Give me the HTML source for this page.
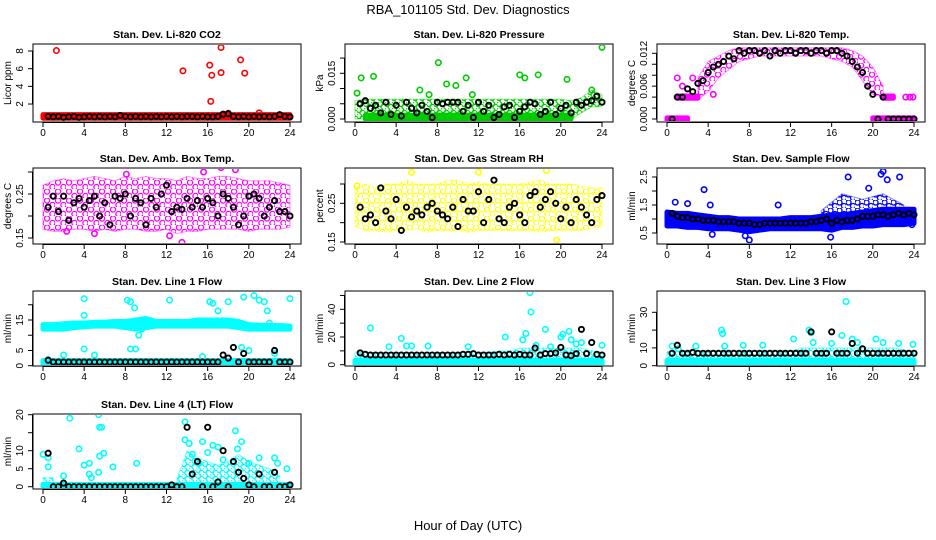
<!DOCTYPE html>
<html><head><meta charset="utf-8"><style>
body{margin:0;background:#fff}
svg{display:block;font-family:"Liberation Sans",sans-serif}
</style></head><body>
<svg id="chart" width="936" height="540" viewBox="0 0 936 540" xmlns="http://www.w3.org/2000/svg">
<defs>
<pattern id="pt-red" width="7" height="6" patternUnits="userSpaceOnUse"><circle cx="2" cy="2" r="2.5" fill="none" stroke="#ff0000" stroke-width="1.3"/><circle cx="5.5" cy="4.8" r="2.5" fill="none" stroke="#ff0000" stroke-width="1.3"/></pattern>
<pattern id="pt-green" width="7" height="6" patternUnits="userSpaceOnUse"><circle cx="2" cy="2" r="2.5" fill="none" stroke="#00cd00" stroke-width="1.3"/><circle cx="5.5" cy="4.8" r="2.5" fill="none" stroke="#00cd00" stroke-width="1.3"/></pattern>
<pattern id="pt-magenta" width="11" height="9" patternUnits="userSpaceOnUse"><circle cx="3" cy="2.5" r="2.6" fill="none" stroke="#ff00ff" stroke-width="1.3"/><circle cx="8.5" cy="7" r="2.6" fill="none" stroke="#ff00ff" stroke-width="1.3"/></pattern>
<pattern id="pt-yellow" width="11" height="9" patternUnits="userSpaceOnUse"><circle cx="3" cy="2.5" r="2.6" fill="none" stroke="#ffff00" stroke-width="1.3"/><circle cx="8.5" cy="7" r="2.6" fill="none" stroke="#ffff00" stroke-width="1.3"/></pattern>
<pattern id="pt-blue" width="9" height="8" patternUnits="userSpaceOnUse"><circle cx="2.5" cy="2.5" r="2.5" fill="none" stroke="#0000ff" stroke-width="1.3"/><circle cx="7" cy="6" r="2.5" fill="none" stroke="#0000ff" stroke-width="1.3"/></pattern>
<pattern id="pt-cyan" width="7" height="6" patternUnits="userSpaceOnUse"><circle cx="2" cy="2" r="2.5" fill="none" stroke="#00ffff" stroke-width="1.3"/><circle cx="5.5" cy="4.8" r="2.5" fill="none" stroke="#00ffff" stroke-width="1.3"/></pattern>
</defs>
<text x="468" y="14" text-anchor="middle" font-size="13">RBA_101105  Std. Dev. Diagnostics</text>
<text x="468" y="530" text-anchor="middle" font-size="13">Hour of Day (UTC)</text>
</svg>
<script>
const bandHours=[0,1,2,3,4,5,6,7,8,9,10,11,12,13,14,15,16,17,18,19,20,21,22,23,24];
const blackX=[0.5,1,1.5,2,2.5,3,3.5,4,4.5,5,5.5,6,6.5,7,7.5,8,8.5,9,9.5,10,10.5,11,11.5,12,12.5,13,13.5,14,14.5,15,15.5,16,16.5,17,17.5,18,18.5,19,19.5,20,20.5,21,21.5,22,22.5,23,23.5,24];
const xTicks=[0,4,8,12,16,20,24];
const N=null;
// CO2
const co2Lo=[0.4,0.4,0.4,0.4,0.4,0.4,0.4,0.4,0.4,0.4,0.4,0.4,0.4,0.4,0.4,0.4,0.4,0.4,0.4,0.4,0.4,0.4,0.4,0.4,0.4];
const co2Hi=[0.8,0.8,0.8,0.8,0.8,0.8,0.8,0.8,0.8,0.8,0.8,0.8,0.8,0.8,0.8,0.8,0.8,0.8,0.8,0.8,0.8,0.8,0.8,0.8,0.8];
const co2OutX=[1.3,13.6,16.2,16.4,16.3,17.3,17.3,19.2,19.6,18,21];
const co2OutY=[8.05,5.75,6.4,5.25,2.3,8.4,5.55,7.0,5.5,0.95,1.0];
const co2Black=[0.6,0.55,0.6,0.5,0.55,0.6,0.5,0.55,0.6,0.55,0.6,0.55,0.6,0.55,0.7,0.6,0.55,0.6,0.55,0.6,0.55,0.6,0.55,0.6,0.55,0.6,0.55,0.6,0.6,0.55,0.6,0.55,0.55,0.6,0.85,0.9,0.6,0.55,0.6,0.55,0.6,0.55,0.6,0.55,0.6,0.8,0.6,0.55];
// Pressure
const prLo=[0,0,0,0,0,0,0,0,0,0,0,0,0,0,0,0,0,0,0,0,0,0,0.002,0.004,0.004];
const prHi=[0.006,0.0065,0.0065,0.0065,0.0065,0.0065,0.0065,0.0065,0.0065,0.0065,0.0065,0.0065,0.0065,0.0065,0.0065,0.0065,0.0065,0.0065,0.0065,0.0065,0.0065,0.006,0.007,0.0095,0.008];
const prSolidLo=[N,0,0,0,0,0,0,0,0,0,0,0,0,0,0,0,0,0,0,0,0,0,N,N,N];
const prSolidHi=[N,0.0012,0.0012,0.0012,0.0012,0.0012,0.0012,0.0012,0.0012,0.0012,0.0012,0.0012,0.0012,0.0012,0.0012,0.0012,0.0012,0.0012,0.0012,0.0012,0.0012,0.0012,N,N,N];
const prOutX=[0.6,1.8,6.3,8.1,8.9,9.8,10.8,11.4,16,16.5,17.8,20.6,24,23,0.2,7.2];
const prOutY=[0.0135,0.014,0.0095,0.0185,0.0115,0.011,0.0135,0.008,0.0145,0.0135,0.0145,0.013,0.0235,0.0095,0.0085,0.008];
const prBlack=[0.005,0.006,0.0035,0.0045,0.002,0.0055,0.0015,0.0045,0.001,0.0055,0.0035,0.002,0.0045,0.0025,0.0005,0.0055,0.005,0.0055,0.0055,0.0055,0.0025,0.0045,0.0005,0.0055,0.0025,0.0045,0.0005,0.0015,0.004,0.0045,0.0005,0.0025,0.004,0.0055,0.005,0.0015,0.0025,0.0055,0.0015,0.0035,0.0045,0.002,0.0055,0.0045,0.0055,0.006,0.0075,0.0055];
// Li-820 Temp
const tpLo=[N,N,N,0.0035,0.005,0.0075,0.009,0.0105,0.011,0.0115,0.0115,0.0115,0.0115,0.0115,0.0115,0.0115,0.011,0.0105,0.0095,0.007,0.0045,0.004,N,N,N];
const tpHi=[N,N,N,0.0075,0.0105,0.0115,0.0125,0.013,0.013,0.013,0.013,0.013,0.013,0.013,0.013,0.013,0.013,0.013,0.0125,0.0115,0.0095,0.006,N,N,N];
const tpZeroLo=[-0.0002,-0.0002,-0.0002,N,N,N,N,N,N,N,N,N,N,N,N,N,N,N,N,N,-0.0002,-0.0002,-0.0002,-0.0002,-0.0002];
const tpZeroHi=[0.0002,0.0002,0.0002,N,N,N,N,N,N,N,N,N,N,N,N,N,N,N,N,N,0.0002,0.0002,0.0002,0.0002,0.0002];
const tpMidLo=[N,0.0038,0.0038,0.0038,N,N,N,N,N,N,N,N,N,N,N,N,N,N,N,N,N,0.0038,0.0038,N,N];
const tpMidHi=[N,0.0042,0.0042,0.0042,N,N,N,N,N,N,N,N,N,N,N,N,N,N,N,N,N,0.0042,0.0042,N,N];
const tpOutX=[23.2,23.6,23.9,1,1.5,2,4.5,2.5];
const tpOutY=[0.004,0.004,0.004,0.0075,0.006,0.0055,0.0045,0.0075];
const tpBlack=[0,0.004,0.004,0.0055,0.005,0.0065,0.007,0.0085,0.0095,0.01,0.0105,0.0115,0.011,0.0125,0.012,0.0125,0.0125,0.012,0.0125,0.0115,0.0125,0.012,0.0125,0.0125,0.012,0.0125,0.0125,0.012,0.0125,0.0125,0.012,0.0125,0.0125,0.012,0.0115,0.0105,0.0095,0.0085,0.006,0.0045,0,0.004,0,0,0,0,0,0];
// Amb box temp
const abLo=[0.17,0.165,0.165,0.17,0.17,0.165,0.17,0.165,0.17,0.17,0.165,0.165,0.17,0.16,0.165,0.165,0.17,0.17,0.17,0.17,0.165,0.17,0.17,0.17,0.175];
const abHi=[0.27,0.28,0.285,0.28,0.285,0.29,0.285,0.28,0.29,0.285,0.29,0.285,0.285,0.28,0.29,0.285,0.285,0.29,0.29,0.285,0.28,0.28,0.28,0.275,0.27];
const abOutX=[13.5,17.3,18.7,5,12.3,2.3,8.1,15.6];
const abOutY=[0.14,0.31,0.305,0.16,0.155,0.165,0.295,0.3];
const abBlack=[0.22,0.245,0.21,0.245,0.19,0.23,0.24,0.22,0.235,0.245,0.2,0.23,0.18,0.245,0.24,0.25,0.2,0.24,0.23,0.18,0.24,0.22,0.25,0.27,0.21,0.22,0.215,0.24,0.22,0.235,0.22,0.24,0.23,0.2,0.25,0.24,0.22,0.18,0.2,0.245,0.25,0.24,0.2,0.22,0.235,0.21,0.21,0.2];
// Gas stream RH
const rhLo=[0.19,0.18,0.18,0.175,0.18,0.18,0.185,0.175,0.18,0.18,0.18,0.175,0.18,0.18,0.18,0.18,0.18,0.18,0.175,0.18,0.18,0.18,0.18,0.185,0.19];
const rhHi=[0.29,0.3,0.29,0.3,0.3,0.31,0.3,0.3,0.3,0.31,0.31,0.3,0.305,0.3,0.3,0.3,0.3,0.305,0.31,0.3,0.3,0.3,0.295,0.29,0.29];
const rhOutX=[19.6,18.6,0.2,12,5.5];
const rhOutY=[0.155,0.335,0.295,0.33,0.33];
const rhBlack=[0.24,0.21,0.22,0.2,0.29,0.23,0.21,0.26,0.18,0.24,0.215,0.23,0.22,0.24,0.25,0.23,0.22,0.21,0.24,0.19,0.26,0.23,0.23,0.28,0.2,0.26,0.31,0.21,0.2,0.24,0.25,0.22,0.2,0.27,0.28,0.24,0.26,0.28,0.25,0.21,0.24,0.2,0.26,0.24,0.22,0.2,0.26,0.27];
// Sample flow
const sfLo=[0.75,0.75,0.7,0.7,0.65,0.65,0.65,0.6,0.55,0.6,0.65,0.65,0.65,0.65,0.65,0.65,0.6,0.7,0.7,0.75,0.75,0.8,0.8,0.8,0.85];
const sfHi=[1.25,1.2,1.2,1.15,1.1,1.05,1.05,1,1,1,1,1,1.05,1.05,1.05,1.1,1.15,1.15,1.2,1.25,1.3,1.35,1.35,1.35,1.35];
const sfScLo=[N,N,N,N,N,N,N,N,N,N,N,N,N,N,N,1.1,1.1,1.1,1.15,1.2,1.25,1.3,1.3,1.3,N];
const sfScHi=[N,N,N,N,N,N,N,N,N,N,N,N,N,N,N,1.3,1.6,1.9,1.8,1.7,1.8,1.9,1.7,1.5,N];
const sfOutX=[3.6,0.8,2,17.6,19.6,20.8,21,21.4,22.6,23.8,8,7.6,15.9,4.4,10.8,4.2];
const sfOutY=[2.05,1.6,1.55,2.5,2.1,2.6,2.7,2.4,2.5,0.8,0.25,0.4,0.35,0.45,1.5,1.5];
const sfBlack=[1.2,1.1,1.05,1.05,1.0,1.0,0.95,0.95,0.95,0.9,0.9,0.9,0.9,0.85,0.85,0.85,0.8,0.8,0.85,0.85,0.85,0.85,0.85,0.85,0.85,0.85,0.85,0.9,0.9,0.95,1.0,0.85,0.95,0.9,0.95,0.95,1.0,1.1,1.1,1.1,1.15,1.15,1.1,1.15,1.2,1.15,1.2,1.15];
// Line 1
const l1Lo=[12,12,12,12.5,12.8,13,13,13,12.5,12,12.5,13,13,13,13,13,13,13,13,12.5,12,12,12,12,12];
const l1Hi=[13.5,13.5,13.8,14,14,14.2,14.3,14.5,14.5,15,15.5,14.5,14.5,14.5,14.5,15,15,15,15,14.5,13.5,13.3,13.2,13.2,13];
const l1BLo=[0.3,0.3,0.3,0.3,0.3,0.3,0.3,0.3,0.3,0.3,0.3,0.3,0.3,0.3,0.3,0.3,0.3,0.3,0.3,0.3,0.3,0.3,0.3,0.3,0.3];
const l1BHi=[1.7,1.7,1.7,1.7,1.7,1.7,1.7,1.7,1.7,1.7,1.7,1.7,1.7,1.7,1.7,1.7,1.7,1.7,1.7,1.7,1.7,1.7,1.7,1.7,1.7];
const l1OutX=[0.5,2,4,4,4,5,8.2,8.5,8.9,8.5,9,9.3,12.3,16.2,16.5,15.5,17,18,19.5,19.3,20,20.5,21,21.5,21.8,22,24,22.5,9.6];
const l1OutY=[2,3.5,5.5,22,16.5,3.5,21.5,21,19,5.5,5.5,10,21.5,21,20.5,3,18,21,22.5,6,5,23,21.5,21,18,14,22,4,12];
const l1Black=[1.8,1.2,1.2,1.2,1.2,1.2,1.2,1.2,1.2,1.2,1.2,1.2,1.2,1.2,1.2,1.2,1.2,1.2,1.2,1.2,1.2,1.2,1.2,1.2,1.2,1.2,1.2,1.2,1.2,1.2,1.2,1.2,1.2,1.2,3.5,2.5,6,1.2,4,1.2,1.2,1.2,1.2,1.2,5,1.2,1.2,1.2];
// Line 2
const l2Lo=[0,0,0,0,0,0,0,0,0,0,0,0,0,0,0,0,0,0,0,0,0,0,0,0,0];
const l2Hi=[3,3,3,3,3,3,3,3,3,3,3,3,3,3,3,3,3,3,3,3,3,3,3,3,3];
const l2ScLo=[3,3,3,3,3,3,3,3,3,3,3,3,3,3,3,3,3,3,3,3,3,3,3,3,3];
const l2ScHi=[9,9,8.5,8.5,8.5,8.5,8.5,8.5,8.5,8.5,9,9,9,9,10,10,12,12,12,12,12,12,12,10,9];
const l2OutX=[1.5,3.3,4.5,5,5.5,7.1,11,14.6,16.3,16.6,17,17.1,18.5,20,20.2,20.8,21,21.5,22,24,17.6,19];
const l2OutY=[26.5,13,19,13.5,13.5,13.5,13,20,18,22.5,52,38,25.5,20,22,24,18,15,16,14,14,13];
const l2Black=[8.5,7.5,7,7,7,7,7,7,7,7,7,7,7,7,7,7,7,7,7,7,7.5,7.5,8,7,7,7,7,7.5,7,7.5,7,7.5,7,7,12,7,8,8,8.5,12.5,7,6.5,8,25.5,8,16,7.5,7];
// Line 3
const l3Lo=[0,0,0,0,0,0,0,0,0,0,0,0,0,0,0,0,0,0,0,0,0,0,0,0,0];
const l3Hi=[3,3,3,3,3,3,3,3,3,3,3,3,3,3,3,3,3,3,3,3,3,3,3,3,3];
const l3ScLo=[3,3,3,3,3,3,3,3,3,3,3,3,3,3,3,3,3,3,3,3,3,3,3,3,3];
const l3ScHi=[8,8,8,8,8,8,8,8,8,8,8,8,8,10,10,10,10,10,10,10,10,10,10,9,8];
const l3OutX=[0.5,1.1,2.8,5.3,5.4,5.6,7.4,9.3,12.3,13.8,14,14.2,17.4,17,18,18.5,20.3,21,22.5,23.9,16];
const l3OutY=[11,9.5,11,20,18,11,11.5,11.5,15,20,18.5,13,36,17,15,13,15,13,12.5,12,12.5];
const l3Black=[7,11.5,7,7,7.5,7,7,7,7,7,7,7,7,7,7,7,7,7,7,7,7,7,7,7,7,7,7,19,7,7,7,19,7,7,7,12.5,7,9.5,7,7,7,7,7,7,7,7,7,7];
// Line 4
const l4Lo=[0,0,0,0,0,0,0,0,0,0,0,0,0,0,0,0,0,0,0,0,0,0,0,0,0];
const l4Hi=[0.6,0.6,0.6,0.6,0.6,0.6,0.6,0.6,0.6,0.6,0.6,0.6,0.6,0.6,0.6,0.6,0.6,0.6,0.6,0.6,0.6,0.6,0.6,0.6,0.6];
const l4ScLo=[0,0,N,N,N,N,N,N,N,N,N,N,N,0,0,0,0,0,0,0,0,0,0,0,N];
const l4ScHi=[2.5,2.5,N,N,N,N,N,N,N,N,N,N,N,2,10,8,7,6,7,9,7,6,5,3,N];
const l4OutX=[0,0.5,0.5,2,2.6,3.5,4,4.5,4.5,4.7,5.4,5.5,5.7,5.5,5.9,5.4,6.8,9.1,13.8,13.8,14.2,14.5,15.2,15.5,16,16.5,17,17.5,18.7,18.9,19.3,20,21,22.5,22.8,23.7];
const l4OutY=[9,5.5,8,3,19,10.5,6,6.5,3.5,2.5,20,16.5,16.5,8.5,9.3,4,5.5,6.5,18,13,12,9,6.5,12.5,9.5,11.5,11,7.5,15.5,10.5,12.5,6.5,8,8,6.5,5];
const l4Black=[9.3,0,0,1,0,0,0,0,0,0,0,0,0,0,0,0,0,0,0,0,0,0,0,0,0.5,0,0,16.5,3.5,7,0,16.5,0,1.3,10,0,7,4,2.3,0.5,0,3.5,0,0,4,0,0,0.5];

const COLS=[0,312,624];
const ROWS=[{t:44,b:122},{t:168,b:244},{t:291,b:366},{t:414,b:489}];
const NS='http://www.w3.org/2000/svg';
const svg=document.getElementById('chart');
function mk(tag,attrs,parent){const e=document.createElementNS(NS,tag);for(const k in attrs)e.setAttribute(k,attrs[k]);(parent||svg).appendChild(e);return e;}

const panels=[
 {c:0,r:0,id:'co2',title:'Stan. Dev. Li-820 CO2',ylab:'Licor ppm',col:'#ff0000',pat:'pt-red',v1:0,p1:121.7,v2:8,p2:51,ticks:[2,4,6,8],labs:['2','4','6','8'],
  bands:[[co2Lo,co2Hi,1]],ox:co2OutX,oy:co2OutY,blk:co2Black},
 {c:1,r:0,id:'pressure',title:'Stan. Dev. Li-820 Pressure',ylab:'kPa',col:'#00cd00',pat:'pt-green',v1:0,p1:119,v2:0.015,p2:73.3,ticks:[0,0.005,0.01,0.015,0.02],labs:['0.000','','','0.015',''],
  bands:[[prLo,prHi,0],[prSolidLo,prSolidHi,1]],ox:prOutX,oy:prOutY,blk:prBlack},
 {c:2,r:0,id:'temp',title:'Stan. Dev. Li-820 Temp.',ylab:'degrees C',col:'#ff00ff',pat:'pt-magenta',v1:0,p1:119,v2:0.012,p2:53.3,ticks:[0,0.002,0.004,0.006,0.008,0.01,0.012],labs:['0.000','','','0.006','','','0.012'],
  bands:[[tpLo,tpHi,0],[tpZeroLo,tpZeroHi,1],[tpMidLo,tpMidHi,1]],ox:tpOutX,oy:tpOutY,blk:tpBlack},
 {c:0,r:1,id:'amb',title:'Stan. Dev. Amb. Box Temp.',ylab:'degrees C',col:'#ff00ff',pat:'pt-magenta',v1:0.15,p1:238,v2:0.25,p2:194,ticks:[0.15,0.2,0.25,0.3],labs:['0.15','','0.25',''],
  bands:[[abLo,abHi,0]],ox:abOutX,oy:abOutY,blk:abBlack},
 {c:1,r:1,id:'rh',title:'Stan. Dev. Gas Stream RH',ylab:'percent',col:'#ffff00',pat:'pt-yellow',v1:0.15,p1:242,v2:0.3,p2:184,ticks:[0.15,0.2,0.25,0.3],labs:['0.15','','0.25',''],
  bands:[[rhLo,rhHi,0]],ox:rhOutX,oy:rhOutY,blk:rhBlack},
 {c:2,r:1,id:'sample',title:'Stan. Dev. Sample Flow',ylab:'ml/min',col:'#0000ff',pat:'pt-blue',v1:0.5,p1:233,v2:2.5,p2:177,ticks:[0.5,1,1.5,2,2.5],labs:['0.5','','1.5','','2.5'],
  bands:[[sfScLo,sfScHi,0],[sfLo,sfHi,1]],ox:sfOutX,oy:sfOutY,blk:sfBlack},
 {c:0,r:2,id:'line1',title:'Stan. Dev. Line 1 Flow',ylab:'ml/min',col:'#00ffff',pat:'pt-cyan',v1:0,p1:365.7,v2:15,p2:320,ticks:[0,5,10,15,20],labs:['0','5','','15',''],
  bands:[[l1Lo,l1Hi,1],[l1BLo,l1BHi,1]],ox:l1OutX,oy:l1OutY,blk:l1Black},
 {c:1,r:2,id:'line2',title:'Stan. Dev. Line 2 Flow',ylab:'ml/min',col:'#00ffff',pat:'pt-cyan',v1:0,p1:364.7,v2:40,p2:309.3,ticks:[0,10,20,30,40,50],labs:['0','','20','','40',''],
  bands:[[l2ScLo,l2ScHi,0],[l2Lo,l2Hi,1]],ox:l2OutX,oy:l2OutY,blk:l2Black},
 {c:2,r:2,id:'line3',title:'Stan. Dev. Line 3 Flow',ylab:'ml/min',col:'#00ffff',pat:'pt-cyan',v1:0,p1:365.7,v2:30,p2:312.3,ticks:[0,10,20,30],labs:['0','10','','30'],
  bands:[[l3ScLo,l3ScHi,0],[l3Lo,l3Hi,1]],ox:l3OutX,oy:l3OutY,blk:l3Black},
 {c:0,r:3,id:'line4',title:'Stan. Dev. Line 4 (LT) Flow',ylab:'ml/min',col:'#00ffff',pat:'pt-cyan',v1:0,p1:486.7,v2:20,p2:414.7,ticks:[0,5,10,15,20],labs:['0','5','10','','20'],
  bands:[[l4ScLo,l4ScHi,0],[l4Lo,l4Hi,1]],ox:l4OutX,oy:l4OutY,blk:l4Black}
];

panels.forEach(p=>{
  const off=COLS[p.c],R=ROWS[p.r];
  const L=33+off,Rt=301+off,T=R.t,B=R.b;
  const xs=h=>43+off+h*(247/24);
  const ys=v=>p.p1+(v-p.v1)*(p.p2-p.p1)/(p.v2-p.v1);
  const g=mk('g',{});
  
  
  const cid='clip-'+p.id;
  const cp=mk('clipPath',{id:cid},g);mk('rect',{x:L+1,y:T+1,width:Rt-L-2,height:B-T-2},cp);
  const pg=mk('g',{'clip-path':'url(#'+cid+')'},g);
  p.bands.forEach((bd,bi)=>{
    const lo=bd[0],hi=bd[1],solid=bd[2];
    let seg=[];
    const flush=()=>{
      if(seg.length>1){
        const top=seg.map(i=>xs(bandHours[i]).toFixed(1)+','+ys(hi[i]).toFixed(1));
        const bot=seg.slice().reverse().map(i=>xs(bandHours[i]).toFixed(1)+','+ys(lo[i]).toFixed(1));
        const poly=mk('polygon',{points:top.concat(bot).join(' '),fill:solid?p.col:'url(#'+p.pat+')',stroke:p.col,'stroke-width':solid?5:1.2,'stroke-linejoin':'round','stroke-opacity':solid?1:0.4},pg);
        
        
      }
      seg=[];
    };
    bandHours.forEach((h,i)=>{ if(lo[i]===null||hi[i]===null) flush(); else seg.push(i); });
    flush();
  });
  p.ox.forEach((x,i)=>{
    const c=mk('circle',{cx:xs(x),cy:ys(p.oy[i]),r:2.7,fill:'none',stroke:p.col,'stroke-width':1.6},pg);
    
    
  });
  p.blk.forEach((v,i)=>{
    const c=mk('circle',{cx:xs(blackX[i]),cy:ys(v),r:2.6,fill:'none',stroke:'#000','stroke-width':1.9},pg);
    
    
  });
  const box=mk('rect',{x:L,y:T,width:Rt-L,height:B-T,fill:'none',stroke:'#000','stroke-width':1},g);
  
  
  mk('line',{x1:xs(0),x2:xs(24),y1:B+0.5,y2:B+0.5,stroke:'#000'},g);
  xTicks.forEach(t=>{
    mk('line',{x1:xs(t),x2:xs(t),y1:B,y2:B+5,stroke:'#000'},g);
    const tx=mk('text',{x:xs(t),y:B+14,'text-anchor':'middle','font-size':10},g);
    tx.textContent=t;
    
    
  });
  mk('line',{x1:L-0.5,x2:L-0.5,y1:ys(p.ticks[0]),y2:ys(p.ticks[p.ticks.length-1]),stroke:'#000'},g);
  p.ticks.forEach((t,i)=>{
    const y=ys(t);
    mk('line',{x1:L-5,x2:L,y1:y,y2:y,stroke:'#000'},g);
    if(p.labs[i]){
      const tx=mk('text',{x:L-10,y:y,'text-anchor':'middle','font-size':10,transform:'rotate(-90 '+(L-10)+' '+y+')'},g);
      tx.textContent=p.labs[i];
      
      
    }
  });
  const yl=mk('text',{x:L-22,y:(T+B)/2,'text-anchor':'middle','font-size':10,transform:'rotate(-90 '+(L-22)+' '+((T+B)/2)+')'},g);
  yl.textContent=p.ylab;
  
  
  const ti=mk('text',{x:(L+Rt)/2,y:T-6,'text-anchor':'middle','font-size':10.5,'font-weight':'bold'},g);
  ti.textContent=p.title;
  
  
});
</script>
</body></html>
